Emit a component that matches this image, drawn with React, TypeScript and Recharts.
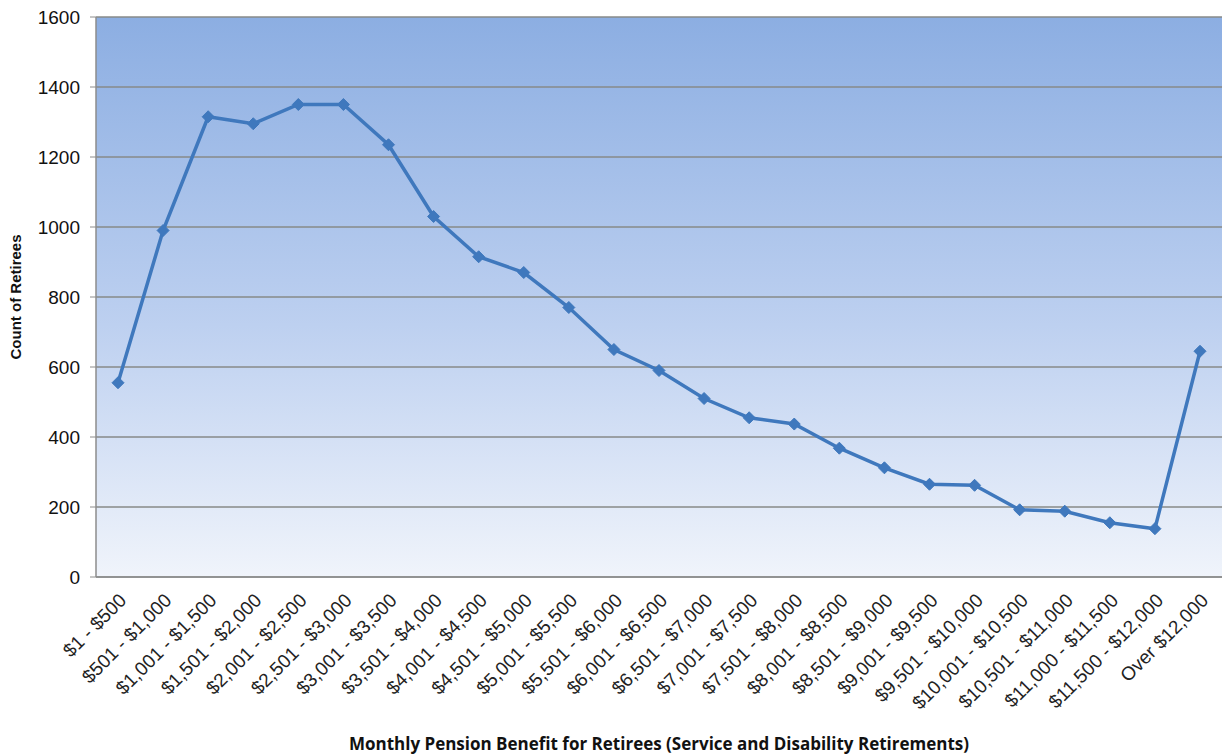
import {
  LineChart,
  Line,
  XAxis,
  YAxis,
  CartesianGrid
} from "recharts"

const categories = [
  "$1 - $500", "$501 - $1,000", "$1,001 - $1,500", "$1,501 - $2,000",
  "$2,001 - $2,500", "$2,501 - $3,000", "$3,001 - $3,500", "$3,501 - $4,000",
  "$4,001 - $4,500", "$4,501 - $5,000", "$5,001 - $5,500", "$5,501 - $6,000",
  "$6,001 - $6,500", "$6,501 - $7,000", "$7,001 - $7,500", "$7,501 - $8,000",
  "$8,001 - $8,500", "$8,501 - $9,000", "$9,001 - $9,500", "$9,501 - $10,000",
  "$10,001 - $10,500", "$10,501 - $11,000", "$11,000 - $11,500",
  "$11,500 - $12,000", "Over $12,000"
]

const retirees = [
  555, 990, 1315, 1295, 1350, 1350, 1235, 1030, 915, 870, 770, 650, 590,
  510, 455, 437, 368, 312, 265, 262, 192, 188, 155, 138, 645
]

const yTicks = [0, 200, 400, 600, 800, 1000, 1200, 1400, 1600]

const data = categories.map((c, i) => ({ band: c, count: retirees[i] }))

const Diamond = (props: any) => {
  const { cx, cy, index } = props
  if (cx == null || cy == null) return null
  const r = 6
  return (
    <polygon
      key={index}
      points={`${cx},${cy - r} ${cx + r},${cy} ${cx},${cy + r} ${cx - r},${cy}`}
      fill="#3f78bd"
      stroke="#3f78bd"
    />
  )
}

export default function App() {
  return (
    <div style={{ position: "absolute", left: 0, top: 0, background: "#fff" }}>
      <LineChart
        width={1225}
        height={754}
        data={data}
        margin={{ top: 17, right: 3, left: 0, bottom: 4 }}
      >
        <defs>
          <linearGradient id="bg" x1="0" y1="0" x2="0" y2="1">
            <stop offset="0%" stopColor="#8caee2" />
            <stop offset="55%" stopColor="#bdd0f0" />
            <stop offset="100%" stopColor="#f0f4fb" />
          </linearGradient>
        </defs>
        <CartesianGrid
          vertical={false}
          fill="url(#bg)"
          stroke="#878a88"
          strokeWidth={1.5}
        />
        <XAxis
          dataKey="band"
          interval={0}
          height={173}
          padding={{ left: 22, right: 22 }}
          tickLine={false}
          tickMargin={9}
          axisLine={{ stroke: "#8c8c8c", strokeWidth: 1.5 }}
          angle={-45}
          textAnchor="end"
          tick={{ fontSize: 19, fill: "#222", fontFamily: "Liberation Sans, Arial, sans-serif" }}
          label={{
            value: "Monthly Pension Benefit for Retirees (Service and Disability Retirements)",
            position: "insideBottom",
            offset: 0,
            style: { fontSize: 17, fontWeight: "bold", fill: "#111", fontFamily: "Open Sans, sans-serif" }
          }}
        />
        <YAxis
          width={96}
          domain={[0, 1600]}
          ticks={yTicks}
          tickSize={6}
          tickMargin={10}
          stroke="#8c8c8c"
          axisLine={{ stroke: "#8c8c8c", strokeWidth: 1.5 }}
          tick={{ fontSize: 19, fill: "#111", fontFamily: "Liberation Sans, Arial, sans-serif" }}
          label={{
            value: "Count of Retirees",
            angle: -90,
            position: "insideLeft",
            offset: 16,
            style: { textAnchor: "middle", fontSize: 15, fontWeight: "bold", fill: "#111", fontFamily: "Liberation Sans, Arial, sans-serif" }
          }}
        />
        <Line
          dataKey="count"
          stroke="#3f78bd"
          strokeWidth={3.5}
          dot={Diamond}
          activeDot={false}
          isAnimationActive={false}
        />
      </LineChart>
    </div>
  )
}
